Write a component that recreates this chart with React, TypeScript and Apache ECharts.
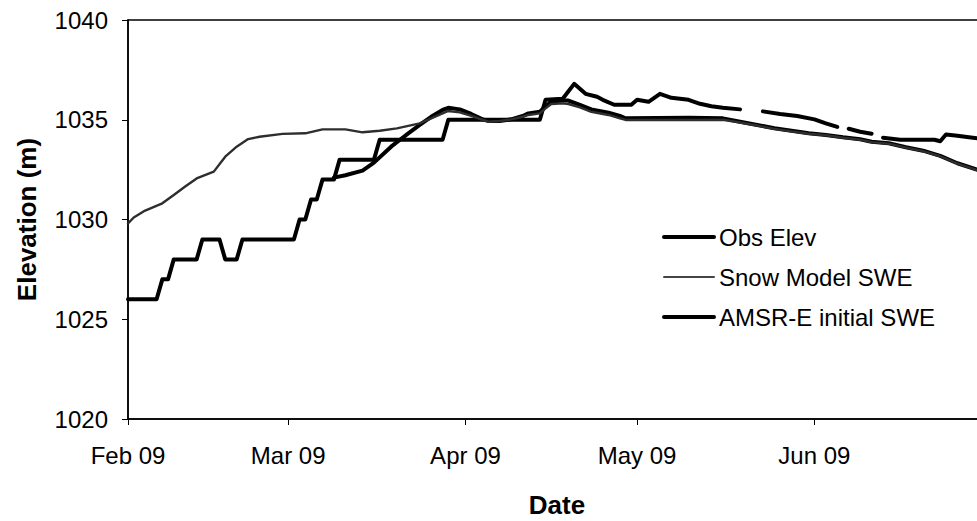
import React, { useEffect, useRef } from "react";
import * as echarts from "echarts";

const FONT = 'Arial, "Liberation Sans", sans-serif';
const MONTHS = ["Jan", "Feb", "Mar", "Apr", "May", "Jun", "Jul", "Aug", "Sep", "Oct", "Nov", "Dec"];
const MONTH_TICKS = ["2009-02-01", "2009-03-01", "2009-04-01", "2009-05-01", "2009-06-01"];
const Y_MIN = 1020;
const Y_MAX = 1040;
const Y_STEP = 5;

const OBS_DATES = [
  "2009-02-01", "2009-02-06", "2009-02-07", "2009-02-08", "2009-02-09", "2009-02-13", "2009-02-14",
  "2009-02-17", "2009-02-18", "2009-02-20", "2009-02-21", "2009-03-02", "2009-03-03", "2009-03-04",
  "2009-03-05", "2009-03-06", "2009-03-07", "2009-03-09", "2009-03-10", "2009-03-16", "2009-03-17",
  "2009-03-28", "2009-03-29", "2009-04-14", "2009-04-15", "2009-04-18", "2009-04-20", "2009-04-22",
  "2009-04-24", "2009-04-25", "2009-04-27", "2009-04-30", "2009-05-01", "2009-05-03", "2009-05-05",
  "2009-05-07", "2009-05-10", "2009-05-12", "2009-05-14", "2009-05-16", "2009-05-19", "2009-05-20",
  "2009-05-23", "2009-05-26", "2009-05-29", "2009-06-01", "2009-06-03", "2009-06-05", "2009-06-06",
  "2009-06-07", "2009-06-09", "2009-06-11", "2009-06-12", "2009-06-13", "2009-06-16", "2009-06-22",
  "2009-06-23", "2009-06-24", "2009-06-26", "2009-06-28", "2009-06-30", "2009-07-01",
];
const OBS_VALUES: (number | null)[] = [
  1026, 1026, 1027, 1027, 1028, 1028, 1029,
  1029, 1028, 1028, 1029, 1029, 1030, 1030,
  1031, 1031, 1032, 1032, 1033, 1033, 1034,
  1034, 1035, 1035, 1036, 1036.05, 1036.8, 1036.3,
  1036.15, 1036.0, 1035.75, 1035.75, 1036.0, 1035.9, 1036.3,
  1036.1, 1036.0, 1035.8, 1035.68, 1035.6, 1035.52, null,
  1035.42, 1035.29, 1035.19, 1035.02, 1034.82, 1034.64, null,
  1034.55, 1034.4, 1034.3, null, 1034.1, 1034.0, 1034.0,
  1033.92, 1034.26, 1034.2, 1034.12, 1034.05, 1034.02,
];

const SNOW_DATES = [
  "2009-02-01", "2009-02-02", "2009-02-04", "2009-02-07", "2009-02-09", "2009-02-11", "2009-02-13",
  "2009-02-16", "2009-02-18", "2009-02-20", "2009-02-22", "2009-02-24", "2009-02-28", "2009-03-04",
  "2009-03-07", "2009-03-11", "2009-03-14", "2009-03-17", "2009-03-20", "2009-03-24", "2009-03-26",
  "2009-03-28", "2009-03-29", "2009-03-31", "2009-04-02", "2009-04-04", "2009-04-05", "2009-04-07",
  "2009-04-09", "2009-04-11", "2009-04-12", "2009-04-14", "2009-04-15", "2009-04-16", "2009-04-18",
  "2009-04-19", "2009-04-21", "2009-04-23", "2009-04-26", "2009-04-28", "2009-04-29", "2009-05-12",
  "2009-05-16", "2009-05-19", "2009-05-22", "2009-05-25", "2009-05-28", "2009-05-31", "2009-06-03",
  "2009-06-06", "2009-06-09", "2009-06-11", "2009-06-14", "2009-06-17", "2009-06-20", "2009-06-23",
  "2009-06-26", "2009-06-30", "2009-07-01",
];
const SNOW_VALUES = [
  1029.8, 1030.1, 1030.45, 1030.81, 1031.23, 1031.65, 1032.06,
  1032.4, 1033.15, 1033.65, 1034.03, 1034.15, 1034.29, 1034.32,
  1034.52, 1034.52, 1034.37, 1034.45, 1034.57, 1034.82, 1035.07,
  1035.32, 1035.44, 1035.37, 1035.19, 1034.99, 1034.9, 1034.94,
  1035.02, 1035.15, 1035.24, 1035.32, 1035.57, 1035.79, 1035.82,
  1035.79, 1035.62, 1035.4, 1035.24, 1035.07, 1034.99, 1034.99,
  1035.0, 1034.86, 1034.71, 1034.54, 1034.42, 1034.3, 1034.22,
  1034.1, 1034.0, 1033.88, 1033.8, 1033.6, 1033.43, 1033.17,
  1032.8, 1032.43, 1032.33,
];

const AMSR_DATES = [
  "2009-03-09", "2009-03-11", "2009-03-14", "2009-03-16", "2009-03-19", "2009-03-21", "2009-03-22",
  "2009-03-24", "2009-03-26", "2009-03-28", "2009-03-29", "2009-03-31", "2009-04-02", "2009-04-04",
  "2009-04-05", "2009-04-07", "2009-04-09", "2009-04-11", "2009-04-12", "2009-04-14", "2009-04-15",
  "2009-04-16", "2009-04-18", "2009-04-19", "2009-04-21", "2009-04-23", "2009-04-26", "2009-04-28",
  "2009-04-29", "2009-05-10", "2009-05-16", "2009-05-19", "2009-05-22", "2009-05-25", "2009-05-28",
  "2009-05-31", "2009-06-03", "2009-06-06", "2009-06-09", "2009-06-11", "2009-06-14", "2009-06-17",
  "2009-06-20", "2009-06-23", "2009-06-26", "2009-06-30", "2009-07-01",
];
const AMSR_VALUES = [
  1032.1, 1032.22, 1032.45, 1032.85, 1033.65, 1034.1, 1034.32,
  1034.74, 1035.15, 1035.49, 1035.6, 1035.52, 1035.29, 1035.02,
  1034.94, 1034.94, 1035.02, 1035.19, 1035.32, 1035.4, 1035.66,
  1035.91, 1035.96, 1035.96, 1035.74, 1035.52, 1035.35, 1035.19,
  1035.07, 1035.1, 1035.07, 1034.9, 1034.74, 1034.57, 1034.45,
  1034.32, 1034.24, 1034.12, 1034.02, 1033.9, 1033.82, 1033.62,
  1033.45, 1033.19, 1032.82, 1032.45, 1032.35,
];

const ts = (d: string) => new Date(d + "T00:00:00Z").getTime();
const zip = (dates: string[], vals: (number | null)[]) => dates.map((d, i) => [ts(d), vals[i]]);

export default function App() {
  const ref = useRef<HTMLDivElement>(null);
  useEffect(() => {
    if (!ref.current) return;
    const chart = echarts.init(ref.current, undefined, { renderer: "svg" });
    const tickVals = MONTH_TICKS.map(ts);
    const hiddenSymbol = { color: "transparent", borderColor: "transparent", borderWidth: 0, opacity: 0 };
    chart.setOption({
      animation: false,
      backgroundColor: "#ffffff",
      textStyle: { fontFamily: FONT },
      grid: {
        left: 128,
        top: 20,
        width: 858,
        height: 399,
        show: true,
        borderColor: "#000",
        borderWidth: 1.5,
        containLabel: false,
        outerBoundsMode: "none",
      },
      legend: {
        orient: "vertical",
        left: 662,
        top: 225,
        padding: 0,
        itemWidth: 50,
        itemHeight: 14,
        itemGap: 16,
        itemStyle: hiddenSymbol,
        data: [
          { name: "Obs Elev", lineStyle: { width: 4, color: "#000" }, itemStyle: hiddenSymbol },
          { name: "Snow Model SWE", lineStyle: { width: 2, color: "#444" }, itemStyle: hiddenSymbol },
          { name: "AMSR-E initial SWE", lineStyle: { width: 4, color: "#000" }, itemStyle: hiddenSymbol },
        ],
        textStyle: { fontSize: 24, color: "#000", fontFamily: FONT, lineHeight: 24 },
      },
      xAxis: {
        type: "value",
        min: ts("2009-02-01"),
        max: ts("2009-07-01"),
        name: "Date",
        nameLocation: "middle",
        nameGap: 73,
        nameTextStyle: { fontSize: 26, fontWeight: "bold", color: "#000", fontFamily: FONT },
        axisLine: { lineStyle: { color: "#000", width: 1.5 } },
        axisTick: { show: true, inside: false, length: 6, customValues: tickVals, lineStyle: { color: "#000", width: 1 } },
        axisLabel: {
          customValues: tickVals,
          fontSize: 24,
          color: "#000",
          fontFamily: FONT,
          margin: 24,
          showMinLabel: true,
          formatter: (v: number) => {
            const d = new Date(v);
            return `${MONTHS[d.getUTCMonth()]} ${String(d.getUTCFullYear() % 100).padStart(2, "0")}`;
          },
        },
        splitLine: { show: false },
      },
      yAxis: {
        type: "value",
        min: Y_MIN,
        max: Y_MAX,
        interval: Y_STEP,
        name: "Elevation (m)",
        nameLocation: "middle",
        nameGap: 88,
        nameTextStyle: { fontSize: 26, fontWeight: "bold", color: "#000", fontFamily: FONT },
        axisLine: { show: true, lineStyle: { color: "#000", width: 1.5 } },
        axisTick: { show: true, inside: false, length: 6, lineStyle: { color: "#000", width: 1 } },
        axisLabel: { fontSize: 24, color: "#000", fontFamily: FONT, margin: 20, formatter: (v: number) => String(v) },
        splitLine: { show: false },
      },
      series: [
        {
          name: "Obs Elev",
          type: "line",
          data: zip(OBS_DATES, OBS_VALUES),
          symbol: "none",
          connectNulls: false,
          color: "#000",
          lineStyle: { color: "#000", width: 4, cap: "round", join: "round" },
          z: 2,
        },
        {
          name: "Snow Model SWE",
          type: "line",
          data: zip(SNOW_DATES, SNOW_VALUES),
          symbol: "none",
          color: "#4a4a4a",
          lineStyle: { color: "#2e2e2e", width: 2.4, cap: "round", join: "round" },
          z: 4,
        },
        {
          name: "AMSR-E initial SWE",
          type: "line",
          data: zip(AMSR_DATES, AMSR_VALUES),
          symbol: "none",
          color: "#000",
          lineStyle: { color: "#000", width: 4, cap: "round", join: "round" },
          z: 3,
        },
      ],
    });
    return () => chart.dispose();
  }, []);
  return (
    <div
      ref={ref}
      style={{ position: "absolute", left: 0, top: 0, width: 977, height: 521, background: "#fff" }}
    />
  );
}
